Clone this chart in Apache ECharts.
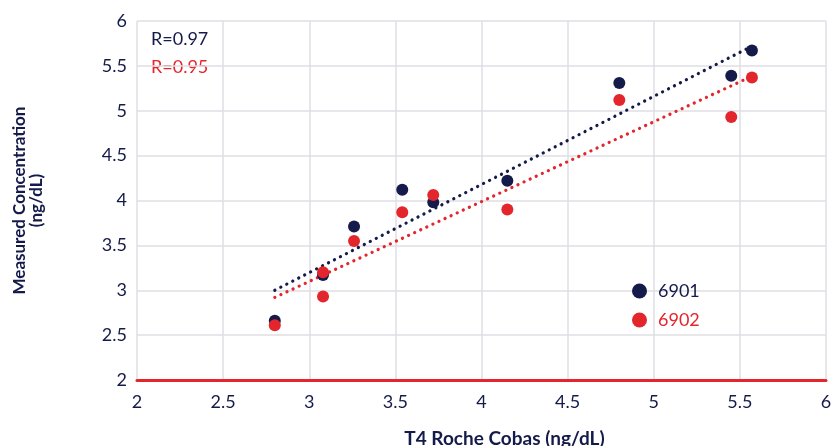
<!DOCTYPE html>
<html>
<head>
<meta charset="utf-8">
<script src="https://cdn.jsdelivr.net/npm/echarts@6/dist/echarts.min.js"></script>
<style>
  html, body { margin: 0; padding: 0; background: #fff; }
  #chart { width: 835px; height: 446px; }
</style>
</head>
<body>
<div id="chart"></div>
<script>
// data
var series6901 = [
  [2.80, 2.66], [3.08, 3.17], [3.26, 3.71], [3.54, 4.12], [3.72, 3.98],
  [4.15, 4.22], [4.80, 5.31], [5.45, 5.39], [5.57, 5.67]
];
var series6902 = [
  [2.80, 2.61], [3.08, 2.93], [3.08, 3.20], [3.26, 3.55], [3.54, 3.87],
  [3.72, 4.06], [4.15, 3.90], [4.80, 5.12], [5.45, 4.93], [5.57, 5.37]
];
// dotted trend lines (end points)
var trend6901 = [[2.80, 3.00], [5.57, 5.72]];
var trend6902 = [[2.80, 2.92], [5.52, 5.34]];
var rLabels = ["R=0.97", "R=0.95"];

var navy = "#141a4a";
var red = "#e3262b";
var fontFam = "Lato, 'Open Sans', sans-serif";

var chart = echarts.init(document.getElementById("chart"));
chart.setOption({
  animation: false,
  grid: { left: 137, right: 9, top: 21, bottom: 66, outerBoundsMode: "none", containLabel: false },
  legend: {
    orient: "vertical",
    left: 627,
    top: 277,
    itemWidth: 27,
    itemHeight: 15,
    itemGap: 11,
    textStyle: { fontFamily: fontFam, fontSize: 18 },
    data: [
      { name: "6901", icon: "circle", textStyle: { color: navy } },
      { name: "6902", icon: "circle", textStyle: { color: red } }
    ]
  },
  graphic: [
    { type: "text", left: 151, top: 30, style: { text: rLabels[0], fill: navy, font: "18px " + fontFam } },
    { type: "text", left: 151, top: 58, style: { text: rLabels[1], fill: red, font: "18px " + fontFam } }
  ],
  xAxis: {
    type: "value",
    min: 2, max: 6, interval: 0.5,
    name: "T4 Roche Cobas (ng/dL)",
    nameLocation: "middle",
    nameGap: 49,
    nameTextStyle: { color: navy, fontFamily: fontFam, fontSize: 19, fontWeight: "bold", padding: [0, 0, 0, 46] },
    axisLine: { show: true, lineStyle: { color: red, width: 3 } },
    axisTick: { show: false },
    axisLabel: { color: navy, fontFamily: fontFam, fontSize: 18, margin: 13 },
    splitLine: { show: true, lineStyle: { color: "#dedee4", width: 1.5 } }
  },
  yAxis: {
    type: "value",
    min: 2, max: 6, interval: 0.5,
    name: "Measured Concentration\n(ng/dL)",
    nameLocation: "middle",
    nameGap: 92,
    nameTextStyle: { color: navy, fontFamily: fontFam, fontSize: 17, fontWeight: "bold", lineHeight: 17 },
    axisLine: { show: false },
    axisTick: { show: false },
    axisLabel: { color: navy, fontFamily: fontFam, fontSize: 18, margin: 10 },
    splitLine: { show: true, lineStyle: { color: "#dedee4", width: 1.5 } }
  },
  series: [
    {
      name: "trend6901", type: "line", data: trend6901, symbol: "none",
      lineStyle: { color: navy, width: 3.2, type: [0.1, 6.6], cap: "round" }, z: 1
    },
    {
      name: "trend6902", type: "line", data: trend6902, symbol: "none",
      lineStyle: { color: red, width: 3.2, type: [0.1, 6.6], cap: "round" }, z: 1
    },
    {
      name: "6901", type: "scatter", data: series6901, symbolSize: 12,
      itemStyle: { color: navy, opacity: 1 }, z: 2
    },
    {
      name: "6902", type: "scatter", data: series6902, symbolSize: 12,
      itemStyle: { color: red, opacity: 1 }, z: 3
    }
  ]
});
</script>
</body>
</html>
